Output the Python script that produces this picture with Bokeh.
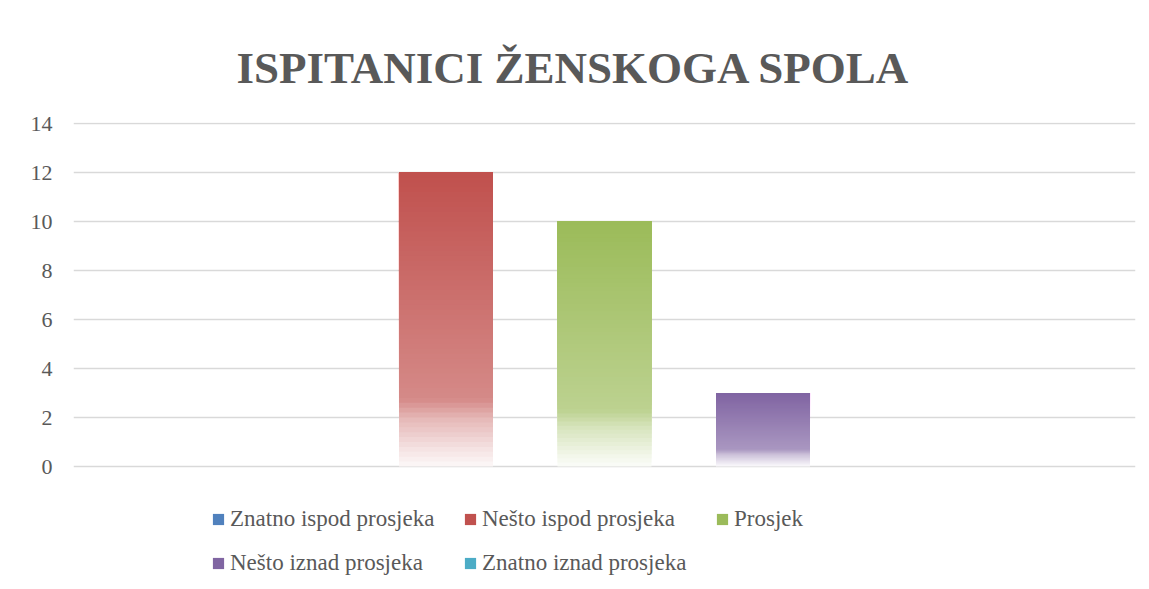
from bokeh.plotting import figure
from bokeh.models import (FactorRange, Range1d, ColumnDataSource, Legend,
                          LegendItem, FixedTicker)
from bokeh.embed import file_html
from bokeh.resources import INLINE

# ---- data ----
chart_title = "ISPITANICI ŽENSKOGA SPOLA"
series = ["Znatno ispod prosjeka", "Nešto ispod prosjeka", "Prosjek",
          "Nešto iznad prosjeka", "Znatno iznad prosjeka"]
values = [0, 12, 10, 3, 0]
colors = ["#4F81BD", "#C0504D", "#9BBB59", "#8064A2", "#4BACC6"]
y_ticks = [0, 2, 4, 6, 8, 10, 12, 14]

FONT = "Liberation Serif"
TEXT = "#595959"

# gradient: t = 0 at bar top, 1 at bar base -> amount of white mixed in
stops = [(0.0, 0.0), (0.77, 0.33), (0.84, 0.6), (0.95, 0.86), (1.0, 0.96)]


def tint(t):
    for (t0, a0), (t1, a1) in zip(stops[:-1], stops[1:]):
        if t <= t1:
            return a0 + (a1 - a0) * (t - t0) / (t1 - t0)
    return stops[-1][1]


def mix(hexc, a):
    r, g, b = (int(hexc[i:i + 2], 16) for i in (1, 3, 5))
    r, g, b = (round(c + (255 - c) * a) for c in (r, g, b))
    return "#%02x%02x%02x" % (r, g, b)


# frame runs from the top gridline down to the bottom of the figure;
# the band below 0 holds the legend
PX_PER_UNIT = 24.5
FRAME_H = 459
y_end = 14 + 1 / PX_PER_UNIT
y_start = y_end - FRAME_H / PX_PER_UNIT

p = figure(width=1141, height=581,
           x_range=FactorRange(*series, range_padding=0.85,
                               range_padding_units="absolute"),
           y_range=Range1d(y_start, y_end),
           output_backend="svg", toolbar_location=None,
           min_border_left=73, min_border_right=6,
           min_border_top=122, min_border_bottom=0)
p.outline_line_color = None
p.background_fill_color = "white"
p.border_fill_color = "white"

p.title.text = chart_title
p.title.text_font = FONT
p.title.text_font_style = "bold"
p.title.text_font_size = "45px"
p.title.text_color = TEXT
p.title.align = "left"
p.title.offset = 163
p.title.standoff = 59

p.xaxis.visible = False
p.xgrid.visible = False
p.ygrid.grid_line_color = "#D9D9D9"
p.ygrid.grid_line_width = 1.3

ya = p.yaxis[0]
ya.ticker = FixedTicker(ticks=y_ticks)
ya.axis_line_color = None
ya.major_tick_line_color = None
ya.minor_tick_line_color = None
ya.major_tick_out = 0
ya.major_label_standoff = 21
ya.major_label_text_font = FONT
ya.major_label_text_font_size = "22px"
ya.major_label_text_color = TEXT

N = 60
items = []
for name, v, c in zip(series, values, colors):
    xs, bottoms, tops, fills = [], [], [], []
    for k in range(N):
        t = 1 - (k + 0.5) / N
        xs.append(name)
        bottoms.append(v * k / N)
        tops.append(v)
        fills.append(mix(c, tint(t)))
    src = ColumnDataSource(dict(x=xs, bottom=bottoms, top=tops, fill=fills))
    r = p.vbar(x="x", bottom="bottom", top="top", width=0.593,
               fill_color="fill", line_color=None, source=src)
    items.append(LegendItem(label=name, renderers=[r], index=N - 1))

legend = Legend(items=items, orientation="horizontal", ncols=3,
                location=(138, 0))
legend.label_text_font = FONT
legend.label_text_font_size = "23px"
legend.label_text_color = TEXT
legend.glyph_width = 14
legend.glyph_height = 14
legend.label_standoff = 5
legend.label_width = 225
legend.spacing = 8
legend.label_height = 36
legend.padding = 0
legend.margin = 0
legend.border_line_color = None
legend.background_fill_alpha = 0
p.add_layout(legend, "center")

open("out.html", "w").write(file_html(p, INLINE, title=chart_title))
